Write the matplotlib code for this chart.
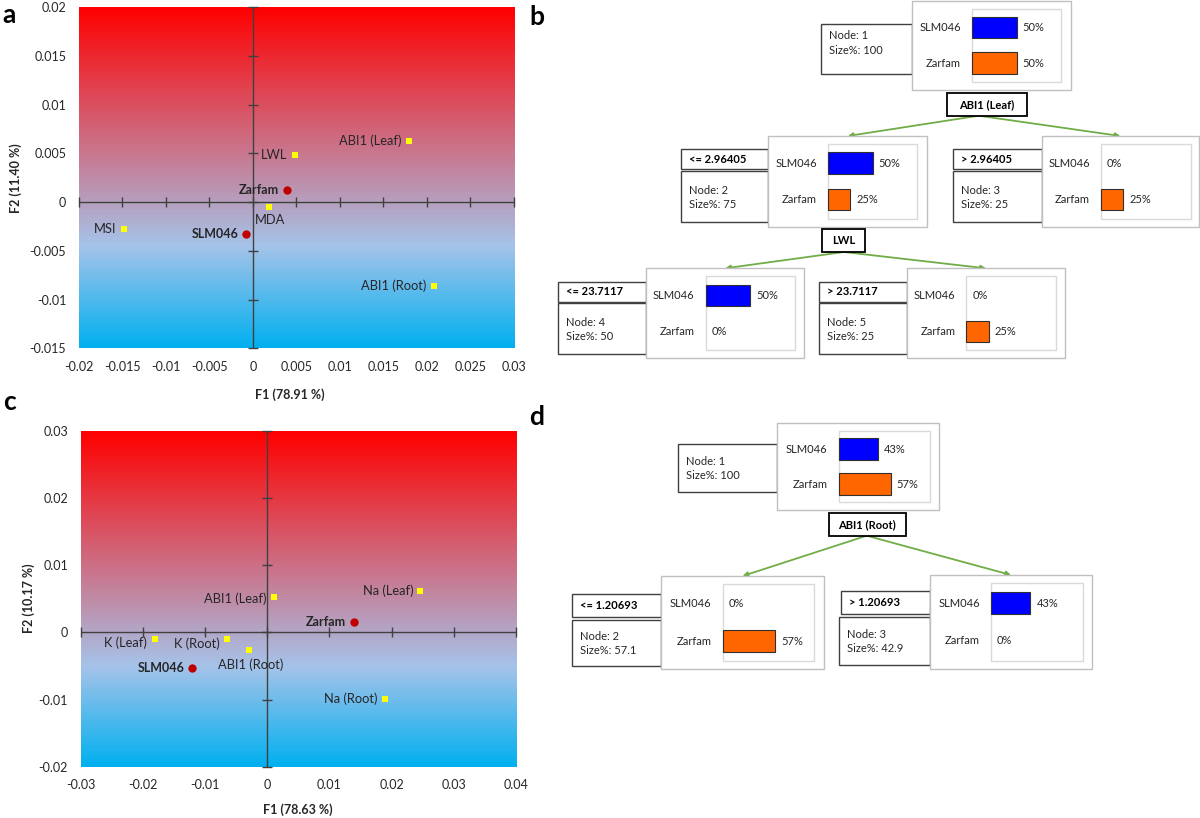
import numpy as np
import matplotlib
matplotlib.use('Agg')
import matplotlib.pyplot as plt
from matplotlib.patches import Rectangle
from matplotlib.colors import to_rgb

plt.rcParams['font.family'] = ['Lato', 'DejaVu Sans']
plt.rcParams['axes.unicode_minus'] = False

# ---------------- data: panel a (biplot) ----------------
a_var_names = ['ABI1 (Leaf)', 'LWL', 'MDA', 'MSI', 'ABI1 (Root)']
a_var_x = [0.0179, 0.0049, 0.0019, -0.0148, 0.0208]
a_var_y = [0.0063, 0.0048, -0.0005, -0.0028, -0.0086]
a_obs_names = ['Zarfam', 'SLM046']
a_obs_x = [0.0039, -0.0008]
a_obs_y = [0.0012, -0.0033]
a_xticks = [-0.02, -0.015, -0.01, -0.005, 0, 0.005, 0.01, 0.015, 0.02, 0.025, 0.03]
a_xticklabels = ['-0.02', '-0.015', '-0.01', '-0.005', '0', '0.005', '0.01', '0.015', '0.02', '0.025', '0.03']
a_yticks = [-0.015, -0.01, -0.005, 0, 0.005, 0.01, 0.015, 0.02]
a_yticklabels = ['-0.015', '-0.01', '-0.005', '0', '0.005', '0.01', '0.015', '0.02']
a_xlabel = 'F1 (78.91 %)'
a_ylabel = 'F2 (11.40 %)'

# ---------------- data: panel c (biplot) ----------------
c_var_names = ['ABI1 (Leaf)', 'Na (Leaf)', 'K (Leaf)', 'K (Root)', 'ABI1 (Root)', 'Na (Root)']
c_var_x = [0.0011, 0.0245, -0.0181, -0.0065, -0.0029, 0.0190]
c_var_y = [0.0053, 0.0062, -0.0010, -0.0010, -0.0026, -0.0099]
c_obs_names = ['Zarfam', 'SLM046']
c_obs_x = [0.0139, -0.0121]
c_obs_y = [0.0016, -0.0053]
c_xticks = [-0.03, -0.02, -0.01, 0, 0.01, 0.02, 0.03, 0.04]
c_xticklabels = ['-0.03', '-0.02', '-0.01', '0', '0.01', '0.02', '0.03', '0.04']
c_yticks = [-0.02, -0.01, 0, 0.01, 0.02, 0.03]
c_yticklabels = ['-0.02', '-0.01', '0', '0.01', '0.02', '0.03']
c_xlabel = 'F1 (78.63 %)'
c_ylabel = 'F2 (10.17 %)'

# ---------------- data: panel b (tree) ----------------
class_names = ['SLM046', 'Zarfam']
b_node_ids = [1, 2, 3, 4, 5]
b_size_pct = ['100', '75', '25', '50', '25']
b_slm_pct = [50, 50, 0, 50, 0]
b_zar_pct = [50, 25, 25, 0, 25]
b_conditions = ['', '<= 2.96405', '> 2.96405', '<= 23.7117', '> 23.7117']
b_splits = ['ABI1 (Leaf)', 'LWL']

# ---------------- data: panel d (tree) ----------------
d_node_ids = [1, 2, 3]
d_size_pct = ['100', '57.1', '42.9']
d_slm_pct = [43, 0, 43]
d_zar_pct = [57, 57, 0]
d_conditions = ['', '<= 1.20693', '> 1.20693']
d_splits = ['ABI1 (Root)']

# ---------------- styling ----------------
W, H = 1200, 818
fig = plt.figure(figsize=(12, 8.18), dpi=100)
fig.patch.set_facecolor('white')

AX_COL = '#404040'
YEL = '#FFFF00'
RED = '#C00000'
BLUE = '#0000FF'
ORANGE = '#FF6600'
GREEN = '#70AD47'

grad_stops = [(0.0, '#FF0000'), (0.70, '#A6C3E9'), (1.0, '#00B0F0')]


def gradient_image(n=400):
    t = np.linspace(0, 1, n)
    pos = [s[0] for s in grad_stops]
    cols = np.array([to_rgb(s[1]) for s in grad_stops])
    img = np.stack([np.interp(t, pos, cols[:, k]) for k in range(3)], axis=-1)
    return img[:, None, :]


def biplot(rect, xlim, ylim, xticks, xtl, yticks, ytl, xlabel, ylabel,
           var_names, vx, vy, obs_names, ox, oy, offsets, xlab_pos, ylab_pos):
    ax = fig.add_axes(rect)
    ax.imshow(gradient_image(), extent=(xlim[0], xlim[1], ylim[0], ylim[1]),
              aspect='auto', origin='upper', zorder=0, interpolation='bilinear')
    ax.set_xlim(*xlim)
    ax.set_ylim(*ylim)
    for s in ax.spines.values():
        s.set_visible(False)
    ax.axhline(0, color=AX_COL, lw=1.0, zorder=1)
    ax.axvline(0, color=AX_COL, lw=1.0, zorder=1)
    ax.plot(xticks, [0] * len(xticks), ls='none', marker='|', ms=7, mew=1.0,
            color=AX_COL, zorder=1, clip_on=False)
    ax.plot([0] * len(yticks), yticks, ls='none', marker='_', ms=7, mew=1.0,
            color=AX_COL, zorder=1, clip_on=False)
    ax.set_xticks(xticks)
    ax.set_xticklabels(xtl)
    ax.set_yticks(yticks)
    ax.set_yticklabels(ytl)
    ax.tick_params(length=0, labelsize=9, colors='#262626', pad=9)
    ax.set_xlabel(xlabel, fontsize=9, fontweight='bold', color='#262626')
    ax.set_ylabel(ylabel, fontsize=9, fontweight='bold', color='#262626')
    ax.xaxis.set_label_coords(*xlab_pos)
    ax.yaxis.set_label_coords(*ylab_pos)
    ax.xaxis.label.set_va('center')
    ax.yaxis.label.set_va('center')

    ax.scatter(vx, vy, marker='s', s=24, color=YEL, zorder=3, linewidths=0)
    ax.scatter(ox, oy, marker='o', s=36, color=RED, zorder=3, linewidths=0)
    for name, x, y in zip(var_names, vx, vy):
        dx, dy, ha, va = offsets.get(name, (-7.5, 0, 'right', 'center'))
        ax.annotate(name, (x, y), xytext=(dx, dy), textcoords='offset pixels',
                    ha=ha, va=va, fontsize=9.3, color='#262626', zorder=4)
    for name, x, y in zip(obs_names, ox, oy):
        ax.annotate(name, (x, y), xytext=(-7.5, 0), textcoords='offset pixels',
                    ha='right', va='center', fontsize=9, fontweight='bold',
                    color='#262626', zorder=4)
    return ax


a_offsets = {'LWL': (-8.5, 0, 'right', 'center'),
             'MDA': (1, -13, 'center', 'center')}
c_offsets = {'ABI1 (Leaf)': (-8, -1.7, 'right', 'center'),
             'Na (Leaf)': (-6.5, 0, 'right', 'center'),
             'K (Leaf)': (-7.5, -3.3, 'right', 'center'),
             'K (Root)': (-7, -4.3, 'right', 'center'),
             'ABI1 (Root)': (2, -14.7, 'center', 'center'),
             'Na (Root)': (-8, 0, 'right', 'center')}

biplot([78.8 / W, 1 - 348.3 / H, 435.1 / W, 341 / H], (-0.02, 0.03), (-0.015, 0.02),
       a_xticks, a_xticklabels, a_yticks, a_yticklabels, a_xlabel, a_ylabel,
       a_var_names, a_var_x, a_var_y, a_obs_names, a_obs_x, a_obs_y, a_offsets,
       (0.485, -0.137), (-0.146, 0.5))

biplot([80.5 / W, 1 - 766.7 / H, 435.7 / W, 336 / H], (-0.03, 0.04), (-0.02, 0.03),
       c_xticks, c_xticklabels, c_yticks, c_yticklabels, c_xlabel, c_ylabel,
       c_var_names, c_var_x, c_var_y, c_obs_names, c_obs_x, c_obs_y, c_offsets,
       (0.498, -0.129), (-0.119, 0.502))

# ---------------- overlay in pixel coordinates for trees ----------------
ov = fig.add_axes([0, 0, 1, 1])
ov.set_xlim(0, W)
ov.set_ylim(H, 0)
ov.axis('off')
ov.patch.set_alpha(0)

TXT = '#262626'
FS = 8


def rect(x, y, w, h, ec, lw=1.0, fc='white', z=2):
    ov.add_patch(Rectangle((x, y), w, h, fc=fc, ec=ec, lw=lw, zorder=z))


def draw_node(main, info, head, inner_dx, inner_w, bar_h, text_dy,
              node_id, size, slm, zar, cond):
    mx, my, mw, mh = main
    ix, iy, iw, ih = info
    if head is not None:
        hx, hy, hw, hh = head
        rect(hx, hy, hw, hh, '#404040', 1.0, z=2)
        ov.text(hx + 8, hy + hh / 2, cond, fontsize=FS, fontweight='bold',
                color='black', ha='left', va='center', zorder=6)
    rect(ix, iy, iw, ih, '#404040', 1.0, z=2)
    ov.text(ix + 8, iy + text_dy, f'Node: {node_id}', fontsize=FS, color=TXT,
            ha='left', va='center', zorder=6)
    ov.text(ix + 8, iy + text_dy + 14.5, f'Size%: {size}', fontsize=FS, color=TXT,
            ha='left', va='center', zorder=6)
    # main node box
    rect(mx, my, mw, mh, '#C0C0C0', 1.0, z=3)
    inx = mx + inner_dx
    rect(inx, my + 8, inner_w, mh - 16, '#DADADA', 1.0, z=4)
    for frac, pct, cname, col in [(0.30, slm, class_names[0], BLUE),
                                  (0.70, zar, class_names[1], ORANGE)]:
        cy = my + frac * mh
        bw = inner_w * pct / 100.0
        if pct > 0:
            ov.add_patch(Rectangle((inx, cy - bar_h / 2), bw, bar_h, fc=col,
                                   ec='#303030', lw=0.8, zorder=5))
        ov.text(inx - 11, cy, cname, fontsize=FS, color=TXT, ha='right',
                va='center', zorder=6)
        ov.text(inx + bw + 6, cy, f'{pct}%', fontsize=FS, color=TXT, ha='left',
                va='center', zorder=6)


def split_label(box, text):
    x0, y0, x1, y1 = box
    rect(x0, y0, x1 - x0, y1 - y0, 'black', 1.3, z=5)
    ov.text((x0 + x1) / 2, (y0 + y1) / 2, text, fontsize=FS, fontweight='bold',
            color='black', ha='center', va='center', zorder=6)


def arrow(p0, p1):
    ov.annotate('', xy=p1, xytext=p0,
                arrowprops=dict(arrowstyle='-|>', color=GREEN, lw=1.3,
                                mutation_scale=7, shrinkA=0, shrinkB=0),
                zorder=1)


# panel b geometry
b_main = [(912.4, 0.7, 158.6, 89.3), (768.4, 136, 159, 90.7), (1041.5, 136, 157.7, 90.7),
          (646.2, 268.3, 158.1, 90), (906.9, 268.3, 158.1, 90)]
b_info = [(820.6, 24.3, 91.8, 49.4), (680.8, 171.3, 87.6, 51), (953, 171.3, 88.5, 51),
          (558.2, 303.3, 88, 50.7), (818.9, 303.3, 88, 50.7)]
b_head = [None, (680.8, 149.3, 87.6, 20), (953, 149.3, 88.5, 20),
          (558.2, 281.7, 88, 20), (818.9, 281.7, 88, 20)]
b_text_dy = [11.4, 19, 19, 19, 19]
b_split_boxes = [(946.6, 93.3, 1027, 115.7), (822.3, 229.3, 864.6, 252)]
b_arrow_src = [(978.7, 115.7), (844, 252)]
b_children = [(1, 2), (3, 4)]

for i in range(len(b_node_ids)):
    draw_node(b_main[i], b_info[i], b_head[i], 59.5, 89.5, 21.5, b_text_dy[i],
              b_node_ids[i], b_size_pct[i], b_slm_pct[i], b_zar_pct[i], b_conditions[i])
for k, lab in enumerate(b_splits):
    split_label(b_split_boxes[k], lab)
    for ch in b_children[k]:
        mx, my, mw, mh = b_main[ch]
        arrow(b_arrow_src[k], (mx + mw / 2, my))

# panel d geometry
d_main = [(777, 423.3, 162.4, 87), (661.2, 576, 162.8, 93.3), (929.6, 575, 162.8, 93.7)]
d_info = [(678.3, 444, 98.7, 48.3), (572, 620, 89.2, 45.7), (839, 616.7, 90.6, 48.6)]
d_head = [None, (572, 594.3, 89.2, 23), (840.7, 591, 88.9, 23.3)]
d_text_dy = [17.3, 16, 17.6]
d_split_boxes = [(828.7, 513.3, 906, 535.7)]
d_arrow_src = [(866.7, 535.7)]
d_children = [(1, 2)]

for i in range(len(d_node_ids)):
    draw_node(d_main[i], d_info[i], d_head[i], 61.5, 91.5, 22, d_text_dy[i],
              d_node_ids[i], d_size_pct[i], d_slm_pct[i], d_zar_pct[i], d_conditions[i])
for k, lab in enumerate(d_splits):
    split_label(d_split_boxes[k], lab)
    for ch in d_children[k]:
        mx, my, mw, mh = d_main[ch]
        arrow(d_arrow_src[k], (mx + mw / 2, my))

# panel letters
for letter, x, y in [('a', 9, 23), ('b', 537, 25), ('c', 9, 410), ('d', 537, 425)]:
    ov.text(x, y, letter, fontsize=19, fontweight='bold', color='black',
            ha='center', va='baseline', zorder=7)

fig.savefig('out.png', dpi=100)
